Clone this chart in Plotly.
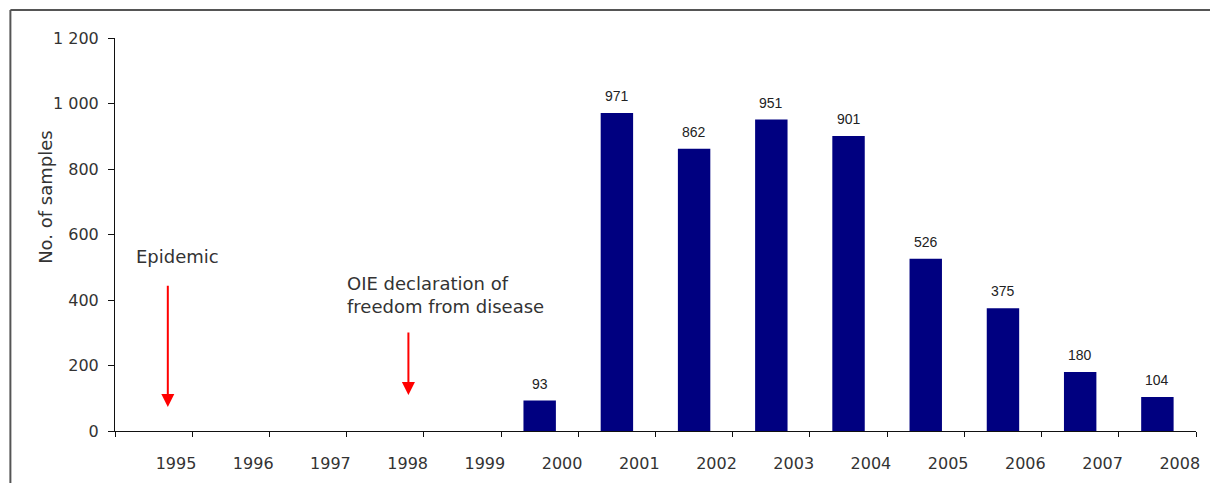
import plotly.graph_objects as go

years = [1995, 1996, 1997, 1998, 1999, 2000, 2001, 2002, 2003, 2004, 2005, 2006, 2007, 2008]
samples = [None, None, None, None, None, 93, 971, 862, 951, 901, 526, 375, 180, 104]
y_ticks = [0, 200, 400, 600, 800, 1000, 1200]

W, H = 1210, 483
ML, MR, MT, MB = 115, 10, 38, 51
PW, PH = W - ML - MR, H - MT - MB

def px_x(p):
    return (p - ML) / PW

def px_y(p):
    return (H - MB - p) / PH

slots = list(range(len(years)))
bar_x = [i + 0.5 for i in slots if samples[i] is not None]
bar_y = [v for v in samples if v is not None]

label_font = "DejaVu Sans"
fig = go.Figure()
fig.add_trace(go.Bar(
    x=bar_x, y=bar_y, width=0.42,
    marker=dict(color="#000080", line=dict(width=0)),
    hoverinfo="skip",
))

annotations = []
for x, v in zip(bar_x, bar_y):
    annotations.append(dict(
        x=x, y=v, xref="x", yref="y", text=str(v), showarrow=False,
        yshift=17, font=dict(family="Liberation Sans", size=14, color="#222"),
    ))

# arrows
annotations.append(dict(
    x=0.684, y=73, ax=0.684, ay=448, xref="x", yref="y", axref="x", ayref="y",
    text="", showarrow=True, arrowhead=2, arrowsize=1.3, arrowwidth=2,
    arrowcolor="#ff0000", standoff=0,
))
annotations.append(dict(
    x=3.80, y=110, ax=3.80, ay=305, xref="x", yref="y", axref="x", ayref="y",
    text="", showarrow=True, arrowhead=2, arrowsize=1.3, arrowwidth=2,
    arrowcolor="#ff0000", standoff=0,
))
annotations.append(dict(
    x=px_x(178), y=px_y(257), xref="paper", yref="paper", text="Epidemic",
    showarrow=False, xanchor="center", yanchor="middle",
    font=dict(family=label_font, size=18, color="#333"),
))
annotations.append(dict(
    x=px_x(346), y=px_y(296), xref="paper", yref="paper",
    text="OIE declaration of<br>freedom from disease", align="left",
    showarrow=False, xanchor="left", yanchor="middle",
    font=dict(family=label_font, size=18, color="#333"),
))
annotations.append(dict(
    x=px_x(45), y=px_y(197), xref="paper", yref="paper", text="No. of samples",
    showarrow=False, textangle=-90, xanchor="center", yanchor="middle",
    font=dict(family=label_font, size=18, color="#333"),
))

shapes = [
    dict(type="line", xref="paper", yref="paper", x0=px_x(10), x1=px_x(1220),
         y0=px_y(10), y1=px_y(10), line=dict(color="#555", width=2)),
    dict(type="line", xref="paper", yref="paper", x0=px_x(10), x1=px_x(10),
         y0=px_y(10), y1=px_y(495), line=dict(color="#555", width=2)),
]

fig.update_layout(
    width=W, height=H,
    margin=dict(l=ML, r=MR, t=MT, b=MB),
    paper_bgcolor="white", plot_bgcolor="white",
    showlegend=False, separators=". ",
    annotations=annotations, shapes=shapes,
    xaxis=dict(
        range=[0, len(years)],
        tickmode="array",
        tickvals=[i + 0.79 for i in slots],
        ticktext=[str(y) for y in years],
        ticks="", showgrid=False, zeroline=False,
        showline=True, linecolor="#111", linewidth=1,
        ticklabelstandoff=18,
        tickfont=dict(family=label_font, size=16, color="#333"),
        minor=dict(tickmode="linear", tick0=0, dtick=1, ticks="outside",
                   ticklen=5, tickcolor="#111", tickwidth=1, showgrid=False),
    ),
    yaxis=dict(
        range=[0, 1200], tickmode="array", tickvals=y_ticks,
        tickformat=",d", ticks="outside", ticklen=6, tickcolor="#111",
        showgrid=False, zeroline=False, showline=True, linecolor="#111",
        linewidth=1, ticklabelstandoff=6,
        tickfont=dict(family=label_font, size=16, color="#333"),
    ),
)

fig.write_html("out.html")
